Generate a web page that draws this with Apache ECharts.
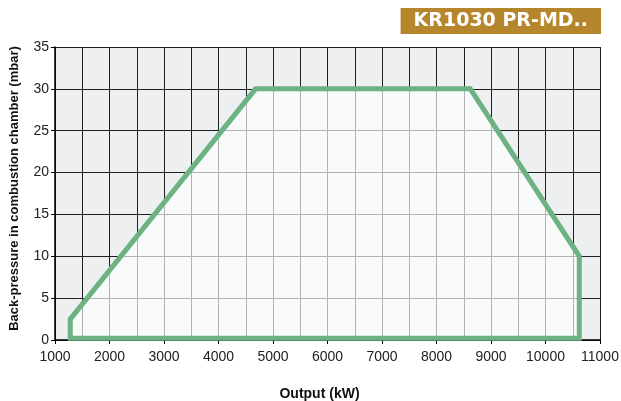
<!DOCTYPE html>
<html>
<head>
<meta charset="utf-8">
<script src="https://cdn.jsdelivr.net/npm/echarts@6/dist/echarts.min.js"></script>
<style>
  html, body { margin: 0; padding: 0; background: #fff; }
  #chart-container { width: 621px; height: 401px; }
</style>
</head>
<body>
<div id="chart-container"></div>
<script>
// working range outline (kW, mbar), drawn in order and closed
var outputKW = [1280, 1280, 4680, 8620, 10620, 10620];
var pressure = [0.2, 2.5, 30, 30, 10, 0.2];

var xTicks = [1000, 2000, 3000, 4000, 5000, 6000, 7000, 8000, 9000, 10000, 11000];
var yTicks = [0, 5, 10, 15, 20, 25, 30, 35];

var titleText = 'KR1030 PR-MD..';

var dom = document.getElementById('chart-container');
var myChart = echarts.init(dom, null, { renderer: 'canvas' });

var font = '"Liberation Sans", Arial, Helvetica, sans-serif';

var points = outputKW.map(function (x, i) { return [x, pressure[i]]; });

var option = {
  animation: false,
  backgroundColor: '#fff',
  title: {
    text: titleText,
    right: 20,
    top: 8,
    backgroundColor: '#b5862b',
    padding: [4, 13, 3, 13],
    textStyle: { color: '#fff', fontFamily: '"DejaVu Sans", sans-serif', fontWeight: 'bold', fontSize: 19 }
  },
  grid: {
    left: 55, right: 21, top: 47, bottom: 61,
    outerBoundsMode: 'none',
    containLabel: false,
    show: true,
    backgroundColor: '#eeeff1',
    borderWidth: 0
  },
  xAxis: {
    type: 'value',
    min: xTicks[0],
    max: xTicks[xTicks.length - 1],
    interval: 1000,
    name: 'Output (kW)',
    nameLocation: 'middle',
    nameGap: 47,
    nameTextStyle: { fontFamily: font, fontWeight: 'bold', fontSize: 14, color: '#111', padding: [0, 16, 0, 0] },
    axisLine: { show: true, onZero: false, lineStyle: { color: '#000', width: 1.5 } },
    axisTick: { show: true, length: 4, lineStyle: { color: '#000' } },
    axisLabel: {
      fontFamily: font, fontSize: 14, color: '#222', margin: 10,
      formatter: function (v) { return String(v); }
    },
    splitLine: { show: true, lineStyle: { color: '#1e1e1e', width: 1 } },
    minorTick: { show: false, splitNumber: 2 },
    minorSplitLine: { show: true, lineStyle: { color: '#1e1e1e', width: 1 } }
  },
  yAxis: {
    type: 'value',
    min: yTicks[0],
    max: yTicks[yTicks.length - 1],
    interval: 5,
    name: 'Back-pressure in combustion chamber (mbar)',
    nameLocation: 'middle',
    nameGap: 34,
    nameTextStyle: { fontFamily: font, fontWeight: 'bold', fontSize: 13, color: '#111', padding: [0, 0, 0, 10] },
    axisLine: { show: true, lineStyle: { color: '#000', width: 1.5 } },
    axisTick: { show: true, length: 4, lineStyle: { color: '#000' } },
    axisLabel: { fontFamily: font, fontSize: 14, color: '#222', margin: 6 },
    splitLine: { show: true, lineStyle: { color: '#1e1e1e', width: 1 } }
  },
  series: [
    {
      type: 'custom',
      coordinateSystem: 'cartesian2d',
      data: points,
      z: 5,
      renderItem: function (params, api) {
        if (params.dataIndex !== 0) return null;
        var pts = points.map(function (p) { return api.coord(p); });
        return {
          type: 'polygon',
          shape: { points: pts },
          style: {
            fill: 'rgba(255,255,255,0.66)',
            stroke: '#6cb283',
            lineWidth: 5,
            lineJoin: 'miter'
          }
        };
      }
    }
  ]
};

myChart.setOption(option);
window.addEventListener('resize', myChart.resize);
</script>
</body>
</html>
